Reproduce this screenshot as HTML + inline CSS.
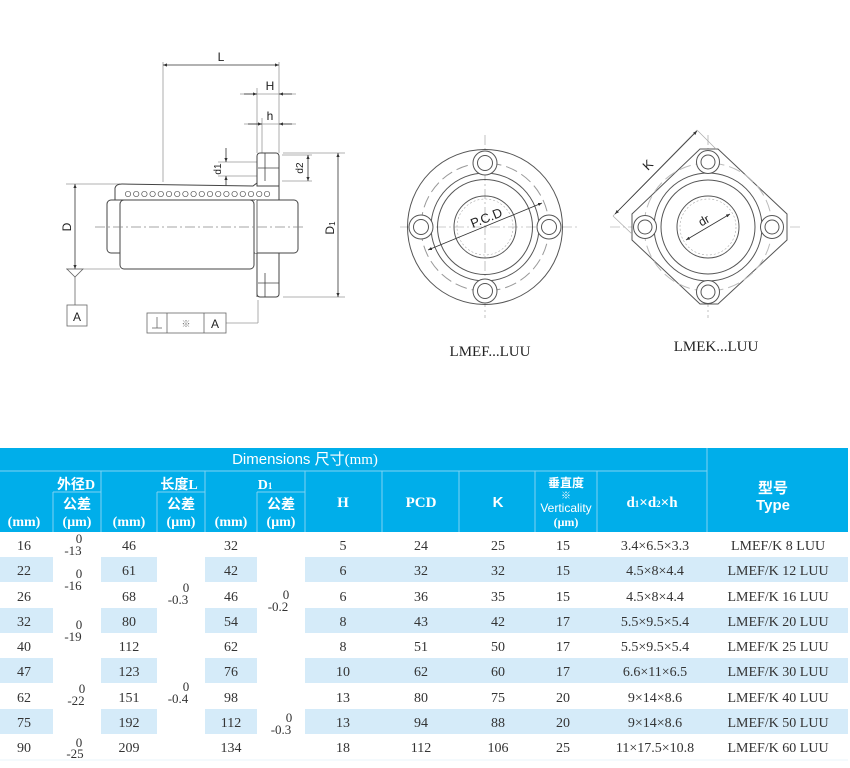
<!DOCTYPE html>
<html><head><meta charset="utf-8"><style>
html,body{margin:0;padding:0;background:#fff;width:850px;height:768px;overflow:hidden}
svg{display:block}
.s{font-family:"Liberation Serif","Noto Serif CJK SC",serif}
.a{font-family:"Liberation Sans","Noto Sans CJK SC",sans-serif}
</style></head><body>
<svg width="850" height="768" viewBox="0 0 850 768" xmlns="http://www.w3.org/2000/svg">
<defs>
<marker id="ar" markerWidth="6" markerHeight="6" refX="5" refY="3" orient="auto-start-reverse"><path d="M0,1 L5,3 L0,5 z" fill="#333"/></marker>
</defs>
<!-- SIDE VIEW -->
<g stroke="#999" stroke-width="0.8" fill="none">
<line x1="163" y1="62" x2="163" y2="182"/>
<line x1="279" y1="62" x2="279" y2="153"/>
<line x1="257" y1="88" x2="257" y2="153"/>
<line x1="262" y1="118" x2="262" y2="153"/>
<line x1="240" y1="94" x2="296" y2="94"/>
<line x1="244" y1="124" x2="296" y2="124"/>
<line x1="283" y1="153" x2="345" y2="153"/>
<line x1="283" y1="297" x2="345" y2="297"/>
<line x1="66" y1="184" x2="120" y2="184"/>
<line x1="66" y1="269" x2="120" y2="269"/>
<line x1="218" y1="162" x2="257" y2="162"/>
<line x1="218" y1="176" x2="257" y2="176"/>
<line x1="282" y1="155" x2="312" y2="155"/>
<line x1="282" y1="181" x2="312" y2="181"/>
<line x1="258" y1="300" x2="258" y2="323"/>
<line x1="226" y1="323" x2="258" y2="323"/>
</g>
<g stroke="#333" stroke-width="0.8" fill="none">
<line x1="163" y1="65" x2="279" y2="65" marker-start="url(#ar)" marker-end="url(#ar)"/>
<line x1="244" y1="94" x2="257" y2="94" marker-end="url(#ar)"/>
<line x1="292" y1="94" x2="279" y2="94" marker-end="url(#ar)"/>
<line x1="248" y1="124" x2="262" y2="124" marker-end="url(#ar)"/>
<line x1="292" y1="124" x2="279" y2="124" marker-end="url(#ar)"/>
<line x1="75" y1="184" x2="75" y2="269" marker-start="url(#ar)" marker-end="url(#ar)"/>
<line x1="338" y1="153" x2="338" y2="297" marker-start="url(#ar)" marker-end="url(#ar)"/>
<line x1="226" y1="148" x2="226" y2="162" marker-end="url(#ar)"/>
<line x1="226" y1="190" x2="226" y2="176" marker-end="url(#ar)"/>
<line x1="308" y1="155" x2="308" y2="181" marker-start="url(#ar)" marker-end="url(#ar)"/>
</g>
<g stroke="#444" stroke-width="1" fill="#fff">
<rect x="257" y="153" width="22" height="144" rx="3"/>
<path d="M115,197 L115,188 Q116,184 122,184 L253,186 L257,183 L257,186 L279,186 L279,200 L115,200 Z"/>
<rect x="107" y="200" width="191" height="53" rx="4"/>
<rect x="120" y="200" width="134" height="69" rx="4"/>
</g>
<rect x="255" y="200" width="2" height="53" fill="#fff"/>
<g stroke="#444" stroke-width="0.8" fill="#fff">
<line x1="257" y1="200" x2="257" y2="297"/>
<line x1="265" y1="153" x2="265" y2="181"/>
<line x1="265" y1="273" x2="265" y2="297"/>
<line x1="258" y1="168" x2="279" y2="168"/>
<line x1="258" y1="283" x2="279" y2="283"/>
</g>
<g stroke="#555" stroke-width="0.7" fill="#fff">
<circle cx="128" cy="194" r="2.7"/><circle cx="136.2" cy="194" r="2.7"/><circle cx="144.4" cy="194" r="2.7"/><circle cx="152.6" cy="194" r="2.7"/><circle cx="160.8" cy="194" r="2.7"/><circle cx="169" cy="194" r="2.7"/><circle cx="177.2" cy="194" r="2.7"/><circle cx="185.4" cy="194" r="2.7"/><circle cx="193.6" cy="194" r="2.7"/><circle cx="201.8" cy="194" r="2.7"/><circle cx="210" cy="194" r="2.7"/><circle cx="218.2" cy="194" r="2.7"/><circle cx="226.4" cy="194" r="2.7"/><circle cx="234.6" cy="194" r="2.7"/><circle cx="242.8" cy="194" r="2.7"/><circle cx="251" cy="194" r="2.7"/><circle cx="259.2" cy="194" r="2.7"/><circle cx="267" cy="194" r="2.7"/>
</g>
<line x1="95" y1="227" x2="305" y2="227" stroke="#888" stroke-width="0.7" stroke-dasharray="10,3,2,3"/>
<g stroke="#666" stroke-width="0.8" fill="none">
<path d="M67,269 L83,269 L75,277 Z"/>
<line x1="75" y1="277" x2="75" y2="305"/>
<rect x="67" y="305" width="20" height="21"/>
<rect x="147" y="313" width="79" height="20"/>
<line x1="167" y1="313" x2="167" y2="333"/>
<line x1="204" y1="313" x2="204" y2="333"/>
<line x1="157" y1="317" x2="157" y2="328"/><line x1="152" y1="328" x2="162" y2="328"/>
</g>
<g class="a" fill="#222" font-size="12">
<text x="221" y="61" text-anchor="middle">L</text>
<text x="270" y="90" text-anchor="middle">H</text>
<text x="270" y="120" text-anchor="middle">h</text>
<text x="77" y="321" text-anchor="middle">A</text>
<text x="215" y="328" text-anchor="middle">A</text>
<text x="186" y="327" text-anchor="middle" font-size="9" fill="#777">※</text>
<text transform="translate(71,227) rotate(-90)" text-anchor="middle">D</text>
<text transform="translate(334,228) rotate(-90)" text-anchor="middle">D<tspan font-size="8" dy="1">1</tspan></text>
<text transform="translate(221,169) rotate(-90)" text-anchor="middle" font-size="10">d1</text>
<text transform="translate(303,168) rotate(-90)" text-anchor="middle" font-size="10">d2</text>
</g>
<!-- LMEF -->
<g fill="none" stroke="#555" stroke-width="1">
<line x1="400" y1="227" x2="577" y2="227" stroke="#999" stroke-width="0.6" stroke-dasharray="10,3,2,3"/>
<line x1="485" y1="135" x2="485" y2="318" stroke="#999" stroke-width="0.6" stroke-dasharray="10,3,2,3"/>
<circle cx="485" cy="227" r="77.5"/>
<circle cx="485" cy="227" r="64" stroke="#999" stroke-dasharray="12,5"/>
<circle cx="485" cy="227" r="54"/>
<circle cx="485" cy="227" r="47.5"/>
<circle cx="485" cy="227" r="31"/>
<circle cx="485" cy="227" r="28" stroke="#aaa" stroke-width="0.6" stroke-dasharray="2,2"/>
<g fill="#fff"><circle cx="485" cy="163" r="12"/><circle cx="485" cy="291" r="12"/><circle cx="421" cy="227" r="12"/><circle cx="549" cy="227" r="12"/></g>
<circle cx="485" cy="163" r="7.5"/><circle cx="485" cy="291" r="7.5"/><circle cx="421" cy="227" r="7.5"/><circle cx="549" cy="227" r="7.5"/>
<line x1="428" y1="250" x2="542" y2="203" stroke="#333" stroke-width="0.8" marker-start="url(#ar)" marker-end="url(#ar)"/>
</g>
<text class="a" x="488" y="222" font-size="13" fill="#222" text-anchor="middle" transform="rotate(-22 488 222)">P.C.D</text>
<text class="s" x="490" y="356" font-size="15" fill="#222" text-anchor="middle">LMEF...LUU</text>
<!-- LMEK -->
<g fill="none" stroke="#555" stroke-width="1">
<line x1="610" y1="227" x2="800" y2="227" stroke="#999" stroke-width="0.6" stroke-dasharray="10,3,2,3"/>
<line x1="708" y1="135" x2="708" y2="318" stroke="#999" stroke-width="0.6" stroke-dasharray="10,3,2,3"/>
<path d="M700,149 L718,149 L787,214 L787,240 L718,304 L700,304 L632,240 L632,214 Z" fill="#fff"/>
<circle cx="708" cy="227" r="64" stroke="#bbb" stroke-dasharray="12,5"/>
<circle cx="708" cy="227" r="54"/>
<circle cx="708" cy="227" r="47"/>
<circle cx="708" cy="227" r="31"/>
<circle cx="708" cy="227" r="28" stroke="#aaa" stroke-width="0.6" stroke-dasharray="2,2"/>
<g fill="#fff"><circle cx="708" cy="162" r="11.5"/><circle cx="708" cy="292" r="11.5"/><circle cx="645" cy="227" r="11.5"/><circle cx="772" cy="227" r="11.5"/></g>
<circle cx="708" cy="162" r="7"/><circle cx="708" cy="292" r="7"/><circle cx="645" cy="227" r="7"/><circle cx="772" cy="227" r="7"/>
<line x1="613" y1="216" x2="697" y2="130" stroke="#aaa" stroke-width="0.7"/>
<line x1="697" y1="130" x2="717" y2="150" stroke="#aaa" stroke-width="0.7"/>
<line x1="613" y1="216" x2="632" y2="234" stroke="#aaa" stroke-width="0.7"/>
<line x1="615" y1="214" x2="697" y2="131" stroke="#333" stroke-width="0.8" marker-start="url(#ar)" marker-end="url(#ar)"/>
<line x1="686" y1="240" x2="730" y2="214" stroke="#333" stroke-width="0.8" marker-start="url(#ar)" marker-end="url(#ar)"/>
</g>
<text class="a" x="651" y="168" font-size="13" fill="#222" text-anchor="middle" transform="rotate(-45 651 168)">K</text>
<text class="a" x="706" y="224" font-size="12" fill="#222" text-anchor="middle" transform="rotate(-30 706 224)">dr</text>
<text class="s" x="716" y="351" font-size="15" fill="#222" text-anchor="middle">LMEK...LUU</text>

<!-- TABLE -->
<rect x="0" y="448" width="848" height="84" fill="#00aeea"/>
<g fill="#d5ebf9">
<rect x="0" y="557" width="53" height="25"/><rect x="101" y="557" width="56" height="25"/><rect x="205" y="557" width="52" height="25"/><rect x="305" y="557" width="543" height="25"/>
<rect x="0" y="608" width="53" height="25"/><rect x="101" y="608" width="56" height="25"/><rect x="205" y="608" width="52" height="25"/><rect x="305" y="608" width="543" height="25"/>
<rect x="0" y="658" width="53" height="25"/><rect x="101" y="658" width="56" height="25"/><rect x="205" y="658" width="52" height="25"/><rect x="305" y="658" width="543" height="25"/>
<rect x="0" y="709" width="53" height="25"/><rect x="101" y="709" width="56" height="25"/><rect x="205" y="709" width="52" height="25"/><rect x="305" y="709" width="543" height="25"/>
</g>
<line x1="0" y1="760" x2="848" y2="760" stroke="#eaf4fb" stroke-width="1"/>
<g stroke="#7fd3f3" stroke-width="1">
<line x1="0" y1="471" x2="707" y2="471"/>
<line x1="707" y1="448" x2="707" y2="532"/>
<line x1="101" y1="471" x2="101" y2="532"/>
<line x1="205" y1="471" x2="205" y2="532"/>
<line x1="305" y1="471" x2="305" y2="532"/>
<line x1="382" y1="471" x2="382" y2="532"/>
<line x1="459" y1="471" x2="459" y2="532"/>
<line x1="535" y1="471" x2="535" y2="532"/>
<line x1="597" y1="471" x2="597" y2="532"/>
<line x1="53" y1="492" x2="101" y2="492"/><line x1="53" y1="492" x2="53" y2="532"/>
<line x1="157" y1="492" x2="205" y2="492"/><line x1="157" y1="492" x2="157" y2="532"/>
<line x1="257" y1="492" x2="305" y2="492"/><line x1="257" y1="492" x2="257" y2="532"/>
</g>
<g fill="#fff" font-size="14" text-anchor="middle" font-weight="bold">
<text class="a" x="305" y="464" font-size="15" font-weight="normal">Dimensions  尺寸<tspan class="s">(mm)</tspan></text>
<text class="a" x="76" y="489">外径<tspan class="s">D</tspan></text>
<text class="a" x="179" y="489">长度<tspan class="s">L</tspan></text>
<text class="s" x="265" y="489">D<tspan font-size="9">1</tspan></text>
<text class="a" x="77" y="509">公差</text><text class="a" x="181" y="509">公差</text><text class="a" x="281" y="509">公差</text>
<text class="s" x="24" y="526">(mm)</text><text class="s" x="129" y="526">(mm)</text><text class="s" x="231" y="526">(mm)</text>
<text class="s" x="77" y="526">(μm)</text><text class="s" x="181" y="526">(μm)</text><text class="s" x="281" y="526">(μm)</text>
<text class="s" x="343" y="507" font-size="15">H</text><text class="s" x="421" y="507" font-size="15">PCD</text><text class="a" x="498" y="507" font-size="15">K</text>
<text class="a" x="566" y="487" font-size="12">垂直度</text>
<text class="a" x="566" y="499" font-size="10">※</text>
<text class="a" x="566" y="512" font-size="12" font-weight="normal">Verticality</text>
<text class="s" x="566" y="526" font-size="12">(μm)</text>
<text class="s" x="652" y="507" font-size="15">d<tspan font-size="9">1</tspan>×d<tspan font-size="9">2</tspan>×h</text>
<text class="a" x="773" y="493" font-size="15">型号</text>
<text class="a" x="773" y="510" font-size="15">Type</text>
</g>
<g class="s" fill="#333" font-size="14" text-anchor="middle">
<g transform="translate(0,550)"><text x="24">16</text><text x="129">46</text><text x="231">32</text><text x="343">5</text><text x="421">24</text><text x="498">25</text><text x="563">15</text><text x="655">3.4×6.5×3.3</text><text x="778">LMEF/K 8 LUU</text></g>
<g transform="translate(0,575)"><text x="24">22</text><text x="129">61</text><text x="231">42</text><text x="343">6</text><text x="421">32</text><text x="498">32</text><text x="563">15</text><text x="655">4.5×8×4.4</text><text x="778">LMEF/K 12 LUU</text></g>
<g transform="translate(0,601)"><text x="24">26</text><text x="129">68</text><text x="231">46</text><text x="343">6</text><text x="421">36</text><text x="498">35</text><text x="563">15</text><text x="655">4.5×8×4.4</text><text x="778">LMEF/K 16 LUU</text></g>
<g transform="translate(0,626)"><text x="24">32</text><text x="129">80</text><text x="231">54</text><text x="343">8</text><text x="421">43</text><text x="498">42</text><text x="563">17</text><text x="655">5.5×9.5×5.4</text><text x="778">LMEF/K 20 LUU</text></g>
<g transform="translate(0,651)"><text x="24">40</text><text x="129">112</text><text x="231">62</text><text x="343">8</text><text x="421">51</text><text x="498">50</text><text x="563">17</text><text x="655">5.5×9.5×5.4</text><text x="778">LMEF/K 25 LUU</text></g>
<g transform="translate(0,676)"><text x="24">47</text><text x="129">123</text><text x="231">76</text><text x="343">10</text><text x="421">62</text><text x="498">60</text><text x="563">17</text><text x="655">6.6×11×6.5</text><text x="778">LMEF/K 30 LUU</text></g>
<g transform="translate(0,702)"><text x="24">62</text><text x="129">151</text><text x="231">98</text><text x="343">13</text><text x="421">80</text><text x="498">75</text><text x="563">20</text><text x="655">9×14×8.6</text><text x="778">LMEF/K 40 LUU</text></g>
<g transform="translate(0,727)"><text x="24">75</text><text x="129">192</text><text x="231">112</text><text x="343">13</text><text x="421">94</text><text x="498">88</text><text x="563">20</text><text x="655">9×14×8.6</text><text x="778">LMEF/K 50 LUU</text></g>
<g transform="translate(0,752)"><text x="24">90</text><text x="129">209</text><text x="231">134</text><text x="343">18</text><text x="421">112</text><text x="498">106</text><text x="563">25</text><text x="655">11×17.5×10.8</text><text x="778">LMEF/K 60 LUU</text></g>
<g font-size="13">
<text x="79" y="543">0</text><text x="73" y="555">-13</text>
<text x="79" y="578">0</text><text x="73" y="590">-16</text>
<text x="79" y="629">0</text><text x="73" y="641">-19</text>
<text x="82" y="693">0</text><text x="76" y="705">-22</text>
<text x="79" y="747">0</text><text x="75" y="758">-25</text>
<text x="186" y="592">0</text><text x="178" y="604">-0.3</text>
<text x="186" y="691">0</text><text x="178" y="703">-0.4</text>
<text x="286" y="599">0</text><text x="278" y="611">-0.2</text>
<text x="289" y="722">0</text><text x="281" y="734">-0.3</text>
</g>
</g>
</svg>
</body></html>
